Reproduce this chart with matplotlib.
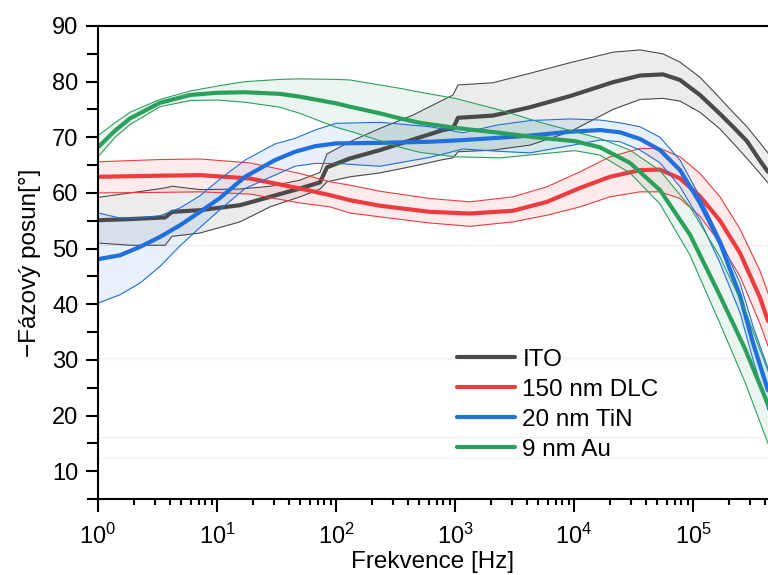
import matplotlib.pyplot as plt
from matplotlib.ticker import MultipleLocator, LogLocator, NullFormatter

plt.rcParams['font.family'] = ['Liberation Sans', 'DejaVu Sans']
plt.rcParams['mathtext.default'] = 'regular'

# ITO
f_ito = [1, 1.86, 3.66, 4.19, 7.2, 15.6, 27.9, 49.8, 73.4, 84, 131, 234, 444, 793, 962,
         1060, 2085, 4268, 9250, 21270, 35890, 56000, 77840, 114500, 168800, 216700,
         284300, 365700, 426800]
ito_mean = [55.1, 55.3, 55.6, 56.6, 56.9, 57.8, 59.3, 60.8, 61.9, 64.6, 66.2, 67.7, 69.6,
            71.3, 71.6, 73.5, 73.9, 75.4, 77.4, 79.9, 81.1, 81.3, 80.3, 77.6, 74.2, 71.9,
            69.3, 65.8, 63.8]
ito_hi = [59.2, 60.0, 60.9, 61.2, 60.6, 60.7, 61.2, 62.3, 63.7, 67.0, 69.2, 71.6, 74.0,
          76.7, 77.6, 79.4, 79.8, 81.5, 83.4, 85.3, 85.7, 85.0, 83.5, 80.8, 77.0, 74.5,
          71.9, 69.0, 67.2]
ito_lo = [51.0, 50.6, 50.6, 52.2, 52.8, 54.8, 57.5, 59.3, 60.7, 62.0, 62.9, 63.6, 64.8,
          66.0, 66.3, 67.4, 67.7, 68.6, 71.0, 75.0, 76.8, 77.0, 76.5, 74.5, 71.5, 69.0,
          66.2, 63.5, 61.8]

# 150 nm DLC
f_dlc = [1, 3.32, 7.2, 18.9, 49.8, 89.1, 131, 234, 617, 1336, 3070, 5934, 11230, 20070,
         35890, 52860, 77840, 114500, 168800, 248500, 365700, 426800]
dlc_mean = [62.9, 63.1, 63.2, 62.6, 60.8, 59.6, 58.7, 57.7, 56.6, 56.3, 56.8, 58.4, 60.9,
            62.9, 64.1, 64.2, 62.6, 59.4, 55.0, 49.2, 41.2, 37.0]
dlc_hi = [65.6, 66.0, 66.1, 65.4, 63.5, 62.0, 61.4, 60.3, 59.0, 58.4, 59.3, 61.1, 63.8,
          66.5, 68.0, 68.0, 66.5, 63.5, 59.3, 53.5, 46.0, 42.0]
dlc_lo = [60.0, 60.1, 60.2, 59.8, 58.2, 57.5, 56.4, 55.7, 54.6, 54.0, 54.8, 56.0, 57.5,
          59.3, 60.2, 60.2, 59.0, 55.8, 51.0, 45.0, 36.5, 32.5]

# 20 nm TiN
f_tin = [1, 1.53, 2.25, 3.32, 4.89, 7.2, 10.6, 17.2, 30.7, 45.2, 66.6, 100, 234, 617,
         1167, 2254, 4268, 9250, 16530, 24390, 35890, 52860, 77840, 114500, 168800,
         248500, 320000, 426800]
tin_mean = [48.1, 48.8, 50.3, 52.1, 54.2, 56.6, 59.1, 62.9, 65.9, 67.4, 68.4, 68.9, 69.0,
            69.2, 69.5, 69.9, 70.3, 71.0, 71.3, 70.9, 69.7, 67.7, 64.1, 58.2, 51.0, 41.5,
            33.0, 24.5]
tin_hi = [56.4, 55.5, 55.5, 55.9, 57.3, 59.5, 62.5, 65.9, 68.8, 69.8, 71.3, 72.5, 72.7,
          71.9, 70.8, 72.2, 73.0, 73.3, 73.1, 72.6, 71.9, 70.0, 65.9, 59.3, 51.8, 43.8,
          36.0, 28.5]
tin_lo = [40.2, 41.7, 43.8, 46.8, 50.5, 53.8, 57.0, 60.8, 63.2, 64.8, 65.3, 65.3, 64.8,
          66.4, 67.9, 67.5, 67.2, 68.5, 69.5, 69.2, 67.7, 65.4, 61.1, 55.1, 47.4, 38.5,
          30.0, 21.0]

# 9 nm Au
f_au = [1, 1.39, 1.86, 3.32, 5.93, 10, 17.2, 33.8, 49.8, 100, 131, 234, 345, 508, 1000,
        2388, 5178, 10190, 16530, 29570, 52860, 94380, 168800, 273600, 426800]
au_mean = [68.2, 71.2, 73.4, 76.2, 77.6, 78.0, 78.1, 77.8, 77.3, 76.1, 75.5, 74.3, 73.4,
           72.6, 71.7, 70.8, 69.9, 69.3, 68.2, 65.4, 60.5, 52.5, 41.5, 32.0, 22.0]
au_hi = [70.3, 72.6, 74.5, 76.8, 78.3, 79.2, 80.0, 80.4, 80.5, 80.4, 80.3, 79.4, 78.8,
         78.1, 77.0, 74.9, 72.7, 71.0, 69.8, 67.7, 64.0, 57.5, 48.5, 39.0, 28.0]
au_lo = [66.5, 70.0, 72.3, 75.5, 76.6, 76.7, 76.3, 75.4, 74.3, 71.8, 71.1, 69.4, 68.2,
         67.3, 66.5, 66.3, 67.0, 67.6, 66.8, 63.6, 58.0, 48.8, 36.5, 26.0, 15.0]

nazvy = ['ITO', '150 nm DLC', '20 nm TiN', '9 nm Au']
barvy = ['#4a4a4a', '#ee3b3f', '#1f6fdc', '#2ba05c']
# slabe vodorovne cary (minimum pasu kazde serie)
minima = [50.6, 30.3, 16.2, 12.3]

serie = [
    (f_ito, ito_lo, ito_mean, ito_hi),
    (f_dlc, dlc_lo, dlc_mean, dlc_hi),
    (f_tin, tin_lo, tin_mean, tin_hi),
    (f_au, au_lo, au_mean, au_hi),
]

fig = plt.figure(figsize=(7.68, 5.75), dpi=100)
ax = fig.add_axes([98 / 768, 76 / 575, 670 / 768, 473 / 575])

for (f, lo, m, hi), nazev, barva, mn in zip(serie, nazvy, barvy, minima):
    ax.axhline(mn, color=barva, lw=0.8, alpha=0.1)
    ax.fill_between(f, lo, hi, color=barva, alpha=0.1, lw=0)
    ax.plot(f, lo, color=barva, lw=0.8)
    ax.plot(f, hi, color=barva, lw=0.8)
    ax.plot(f, m, color=barva, lw=3, label=nazev, solid_capstyle='round')

ax.set_xscale('log')
ax.set_xlim(1, 4.27e5)
ax.set_ylim(5, 90)
ax.set_yticks(range(10, 91, 10))
ax.yaxis.set_minor_locator(MultipleLocator(5))
ax.xaxis.set_minor_locator(LogLocator(base=10, subs=range(2, 10), numticks=20))
ax.xaxis.set_minor_formatter(NullFormatter())

ax.spines['right'].set_visible(False)
for s in ['left', 'bottom', 'top']:
    ax.spines[s].set_linewidth(1.5)
ax.tick_params(which='major', direction='out', length=9, width=1.5, labelsize=17, pad=5)
ax.tick_params(axis='x', which='major', pad=9)
ax.tick_params(axis='y', which='minor', direction='out', length=8, width=1.5)
ax.tick_params(axis='x', which='minor', direction='out', length=4.5, width=1.5)

ax.set_xlabel('Frekvence [Hz]', fontsize=17.5, labelpad=1.5)
ax.set_ylabel('\u2212Fázový posun[°]', fontsize=17.5, labelpad=8)

ax.legend(loc='upper left', bbox_to_anchor=(0.521, 0.338), frameon=False, fontsize=17.5,
          handlelength=2.4, handletextpad=0.3, labelspacing=0.33, borderaxespad=0)

fig.savefig('out.png', dpi=100)
